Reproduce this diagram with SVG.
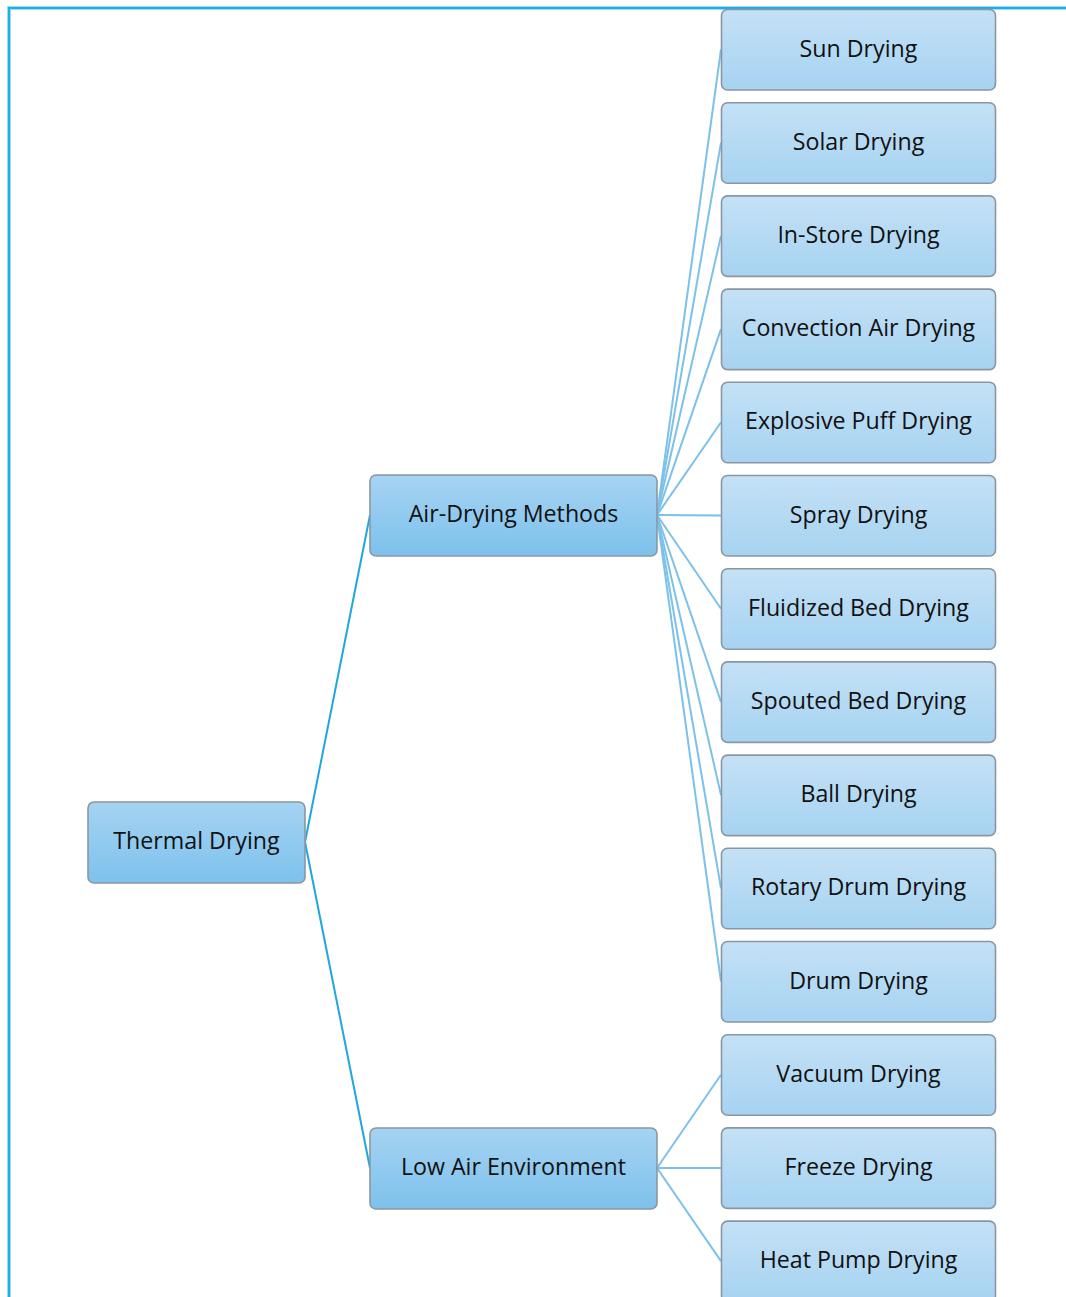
<svg xmlns="http://www.w3.org/2000/svg" width="1066" height="1297" viewBox="0 0 1066 1297">
  <defs>
    <linearGradient id="gLeaf" x1="0" y1="0" x2="0" y2="1">
      <stop offset="0" stop-color="#c4e1f6"/>
      <stop offset="1" stop-color="#a6d3f1"/>
    </linearGradient>
    <linearGradient id="gMid" x1="0" y1="0" x2="0" y2="1">
      <stop offset="0" stop-color="#a6d3f2"/>
      <stop offset="1" stop-color="#7dc1ec"/>
    </linearGradient>
    <style>
      .frame { fill: none; stroke: #1eaee6; stroke-width: 2; }
      .frameGlow { fill: none; stroke: #9adaf4; stroke-width: 4; }
      .leaf rect { fill: url(#gLeaf); stroke: #8a97a2; stroke-width: 1.6; }
      .mid rect { fill: url(#gMid); stroke: #8a97a2; stroke-width: 1.6; }
      text { font-family: "Open Sans", "Liberation Sans", sans-serif; font-size: 23.2px; fill: #111; text-anchor: middle; dominant-baseline: central; }
      .c1 { stroke: #1fa6e0; stroke-width: 2; fill: none; }
      .c2 { stroke: #7cc1ea; stroke-width: 2; fill: none; }
    </style>
  </defs>
  <rect width="1066" height="1297" fill="#ffffff"/>

  <!-- page frame -->
  <path class="frameGlow" d="M9 1297 V8 H1066"/>
  <path class="frame" d="M9 1297 V8 H1066"/>

  <!-- connectors -->
  <g id="connectors">
    <path class="c1" d="M305 842 L370 515"/>
    <path class="c1" d="M305 842 L370 1168"/>
    <path class="c2" d="M657 515 L721 49.5"/>
    <path class="c2" d="M657 515 L721 142.7"/>
    <path class="c2" d="M657 515 L721 235.9"/>
    <path class="c2" d="M657 515 L721 329.1"/>
    <path class="c2" d="M657 515 L721 422.3"/>
    <path class="c2" d="M657 515 L721 515.5"/>
    <path class="c2" d="M657 515 L721 608.7"/>
    <path class="c2" d="M657 515 L721 701.9"/>
    <path class="c2" d="M657 515 L721 795.1"/>
    <path class="c2" d="M657 515 L721 888.3"/>
    <path class="c2" d="M657 515 L721 981.5"/>
    <path class="c2" d="M657 1168 L721 1074.7"/>
    <path class="c2" d="M657 1168 L721 1167.9"/>
    <path class="c2" d="M657 1168 L721 1261.1"/>
  </g>

  <!-- root -->
  <g id="thermal-drying" class="mid">
    <rect x="88" y="802" width="217" height="81" rx="6"/>
    <text x="196.5" y="840">Thermal Drying</text>
  </g>

  <!-- branches -->
  <g id="air-drying-methods" class="mid">
    <rect x="370" y="475" width="287" height="81" rx="6"/>
    <text x="513.5" y="513">Air-Drying Methods</text>
  </g>
  <g id="low-air-environment" class="mid">
    <rect x="370" y="1128" width="287" height="81" rx="6"/>
    <text x="513.5" y="1166">Low Air Environment</text>
  </g>

  <!-- leaves -->
  <g id="sun-drying" class="leaf">
    <rect x="721.5" y="9.5" width="274" height="80.5" rx="6"/>
    <text x="858.5" y="47.5">Sun Drying</text>
  </g>
  <g id="solar-drying" class="leaf">
    <rect x="721.5" y="102.7" width="274" height="80.5" rx="6"/>
    <text x="858.5" y="140.7">Solar Drying</text>
  </g>
  <g id="in-store-drying" class="leaf">
    <rect x="721.5" y="195.9" width="274" height="80.5" rx="6"/>
    <text x="858.5" y="233.9">In-Store Drying</text>
  </g>
  <g id="convection-air-drying" class="leaf">
    <rect x="721.5" y="289.1" width="274" height="80.5" rx="6"/>
    <text x="858.5" y="327.1">Convection Air Drying</text>
  </g>
  <g id="explosive-puff-drying" class="leaf">
    <rect x="721.5" y="382.3" width="274" height="80.5" rx="6"/>
    <text x="858.5" y="420.3">Explosive Puff Drying</text>
  </g>
  <g id="spray-drying" class="leaf">
    <rect x="721.5" y="475.5" width="274" height="80.5" rx="6"/>
    <text x="858.5" y="513.5">Spray Drying</text>
  </g>
  <g id="fluidized-bed-drying" class="leaf">
    <rect x="721.5" y="568.7" width="274" height="80.5" rx="6"/>
    <text x="858.5" y="606.7">Fluidized Bed Drying</text>
  </g>
  <g id="spouted-bed-drying" class="leaf">
    <rect x="721.5" y="661.9" width="274" height="80.5" rx="6"/>
    <text x="858.5" y="699.9">Spouted Bed Drying</text>
  </g>
  <g id="ball-drying" class="leaf">
    <rect x="721.5" y="755.1" width="274" height="80.5" rx="6"/>
    <text x="858.5" y="793.1">Ball Drying</text>
  </g>
  <g id="rotary-drum-drying" class="leaf">
    <rect x="721.5" y="848.3" width="274" height="80.5" rx="6"/>
    <text x="858.5" y="886.3">Rotary Drum Drying</text>
  </g>
  <g id="drum-drying" class="leaf">
    <rect x="721.5" y="941.5" width="274" height="80.5" rx="6"/>
    <text x="858.5" y="979.5">Drum Drying</text>
  </g>
  <g id="vacuum-drying" class="leaf">
    <rect x="721.5" y="1034.7" width="274" height="80.5" rx="6"/>
    <text x="858.5" y="1072.7">Vacuum Drying</text>
  </g>
  <g id="freeze-drying" class="leaf">
    <rect x="721.5" y="1127.9" width="274" height="80.5" rx="6"/>
    <text x="858.5" y="1165.9">Freeze Drying</text>
  </g>
  <g id="heat-pump-drying" class="leaf">
    <rect x="721.5" y="1221.1" width="274" height="80.5" rx="6"/>
    <text x="858.5" y="1259.1">Heat Pump Drying</text>
  </g>
</svg>
